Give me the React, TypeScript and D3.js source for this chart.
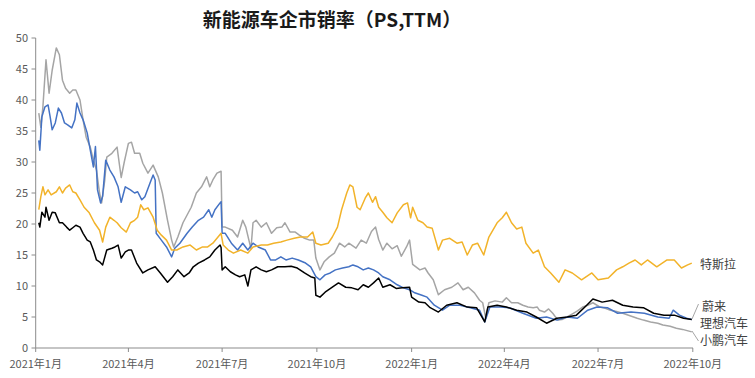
import React from "react";
import * as d3 from "d3";

const seriesNames = ["小鹏汽车", "理想汽车", "特斯拉", "蔚来"];
const seriesColors = ["#A5A5A5", "#4472C4", "#F2B32A", "#000000"];

const xpeng: [string, number][] = [
["2021-01-04",37.9],["2021-01-06",35.6],["2021-01-08",38.9],["2021-01-11",46.5],["2021-01-14",41.1],["2021-01-17",44.8],["2021-01-21",48.4],["2021-01-24",47.3],["2021-01-27",43.2],["2021-01-30",41.9],["2021-02-03",41.1],["2021-02-06",41.6],["2021-02-09",41.6],["2021-02-13",40],["2021-02-16",36.8],["2021-02-19",34],["2021-02-23",32.4],["2021-02-26",30.3],["2021-03-01",28.7],["2021-03-04",25],["2021-03-06",23.4],["2021-03-09",27],["2021-03-11",30.8],["2021-03-16",31.4],["2021-03-21",32.4],["2021-03-25",27.5],["2021-03-28",30],["2021-04-01",33],["2021-04-04",33.2],["2021-04-07",31.4],["2021-04-12",31.4],["2021-04-15",29.8],["2021-04-20",28.2],["2021-04-25",29.5],["2021-04-30",27.6],["2021-05-04",25],["2021-05-09",20.6],["2021-05-13",17.4],["2021-05-15",16.3],["2021-05-19",17.9],["2021-05-24",20.2],["2021-06-01",22.7],["2021-06-06",25],["2021-06-11",26],["2021-06-16",27.6],["2021-06-19",26],["2021-06-22",27.1],["2021-06-26",28.2],["2021-06-30",28.5],["2021-07-01",19.5],["2021-07-04",19.5],["2021-07-11",19],["2021-07-16",17.9],["2021-07-21",20.6],["2021-07-24",19.5],["2021-07-27",17.4],["2021-07-29",16],["2021-07-31",20.2],["2021-08-03",20.6],["2021-08-08",19.5],["2021-08-13",20.2],["2021-08-18",18.5],["2021-08-23",19.4],["2021-08-28",19.5],["2021-08-31",20.2],["2021-09-05",18.7],["2021-09-10",18.7],["2021-09-14",18.2],["2021-09-19",17.7],["2021-09-24",17.4],["2021-09-28",17.4],["2021-09-30",14.5],["2021-10-04",12.6],["2021-10-08",13.9],["2021-10-13",14.7],["2021-10-18",15.3],["2021-10-23",16.9],["2021-10-28",16.3],["2021-11-01",16.9],["2021-11-08",16.1],["2021-11-13",17.4],["2021-11-18",16.9],["2021-11-23",18.8],["2021-11-27",19.5],["2021-11-30",17.5],["2021-12-04",15.8],["2021-12-08",16.9],["2021-12-13",16],["2021-12-18",16.5],["2021-12-22",14.8],["2021-12-27",16.3],["2021-12-30",17.4],["2022-01-02",13.5],["2022-01-09",12.6],["2022-01-14",12.9],["2022-01-17",12.1],["2022-01-22",11],["2022-01-27",8.6],["2022-02-02",9.4],["2022-02-09",9.8],["2022-02-15",10.5],["2022-02-20",9.4],["2022-02-25",9.8],["2022-03-03",8.9],["2022-03-08",7.7],["2022-03-11",7.3],["2022-03-14",4.8],["2022-03-17",7.3],["2022-03-23",7.6],["2022-03-30",7.4],["2022-04-03",8.1],["2022-04-08",7.3],["2022-04-14",7.3],["2022-04-19",6.9],["2022-04-24",6.6],["2022-04-29",6.5],["2022-05-03",6.6],["2022-05-05",6.1],["2022-05-10",5.8],["2022-05-14",6.3],["2022-05-18",5.6],["2022-05-23",4.5],["2022-05-27",4.6],["2022-06-01",5],["2022-06-07",5.6],["2022-06-11",6],["2022-06-16",6.6],["2022-06-21",6.9],["2022-06-26",7.3],["2022-07-03",6.6],["2022-07-08",6.4],["2022-07-13",6.1],["2022-07-19",5.9],["2022-07-25",5.6],["2022-08-01",5.2],["2022-08-08",4.8],["2022-08-14",4.5],["2022-08-21",4.2],["2022-08-28",4.0],["2022-09-02",3.7],["2022-09-09",3.5],["2022-09-15",3.2],["2022-09-21",3.0],["2022-09-30",2.6]
];

const lixiang: [string, number][] = [
["2021-01-04",33.5],["2021-01-05",31.9],["2021-01-07",37.3],["2021-01-10",38.9],["2021-01-13",39.2],["2021-01-15",37.3],["2021-01-17",35.2],["2021-01-20",36.3],["2021-01-23",38.7],["2021-01-26",37.9],["2021-01-29",36.3],["2021-02-01",36],["2021-02-05",35.5],["2021-02-08",36.8],["2021-02-10",39.5],["2021-02-13",37.9],["2021-02-16",36.8],["2021-02-20",34.7],["2021-02-23",31.9],["2021-02-26",29.2],["2021-02-28",32.5],["2021-03-02",25.5],["2021-03-05",23.4],["2021-03-07",24.5],["2021-03-10",30.3],["2021-03-14",28.7],["2021-03-18",27.6],["2021-03-22",26],["2021-03-25",23.5],["2021-03-29",26],["2021-04-03",25.5],["2021-04-07",25],["2021-04-10",25.2],["2021-04-14",23.9],["2021-04-17",24.4],["2021-04-22",26.6],["2021-04-25",27.9],["2021-04-27",27.1],["2021-04-28",18.5],["2021-05-03",17.4],["2021-05-08",16.3],["2021-05-13",14.7],["2021-05-16",16.1],["2021-05-21",16.9],["2021-05-28",18.5],["2021-06-02",19.5],["2021-06-08",20.6],["2021-06-13",21.1],["2021-06-18",22.3],["2021-06-21",21.1],["2021-06-24",22.3],["2021-06-29",23.4],["2021-06-30",23.6],["2021-07-01",18.5],["2021-07-04",18.5],["2021-07-10",16.9],["2021-07-16",15.8],["2021-07-21",16.9],["2021-07-26",15.8],["2021-07-31",16.9],["2021-08-05",16.3],["2021-08-12",15.8],["2021-08-17",14.2],["2021-08-22",14.2],["2021-08-27",14.7],["2021-09-01",14.2],["2021-09-07",14.5],["2021-09-13",14.2],["2021-09-20",13.7],["2021-09-25",13.1],["2021-09-30",11.5],["2021-10-04",11],["2021-10-09",11.8],["2021-10-14",12.1],["2021-10-19",12.6],["2021-10-26",12.9],["2021-11-01",13.1],["2021-11-05",13.4],["2021-11-10",13.1],["2021-11-15",12.6],["2021-11-20",12.9],["2021-11-25",12.6],["2021-11-30",12.1],["2021-12-04",11.5],["2021-12-11",11],["2021-12-18",10.2],["2021-12-24",9.7],["2021-12-30",9.4],["2022-01-04",8.9],["2022-01-11",8.5],["2022-01-16",8.2],["2022-01-23",6.9],["2022-01-31",6.1],["2022-02-07",6.9],["2022-02-17",6.9],["2022-02-27",6.5],["2022-03-08",6.1],["2022-03-13",4.2],["2022-03-18",6.6],["2022-03-28",6.6],["2022-04-06",6.5],["2022-04-19",5.6],["2022-05-02",4.8],["2022-05-12",5],["2022-05-22",4.5],["2022-06-01",5],["2022-06-11",4.8],["2022-06-21",6.1],["2022-06-30",6.6],["2022-07-10",6.5],["2022-07-20",5.6],["2022-08-02",5.8],["2022-08-15",5.6],["2022-08-28",5],["2022-09-08",4.8],["2022-09-12",6.1],["2022-09-18",5.3],["2022-09-25",4.8],["2022-09-30",4.6]
];

const tesla: [string, number][] = [
["2021-01-04",22.3],["2021-01-06",24.4],["2021-01-08",26],["2021-01-10",24.7],["2021-01-13",25.5],["2021-01-16",24.7],["2021-01-21",25.2],["2021-01-24",26],["2021-01-27",25],["2021-01-30",25.8],["2021-02-03",26.3],["2021-02-06",25.2],["2021-02-09",25],["2021-02-13",23.9],["2021-02-17",22.7],["2021-02-22",21.8],["2021-02-27",20.2],["2021-03-04",19],["2021-03-07",17.1],["2021-03-10",19.5],["2021-03-14",21.1],["2021-03-18",20.6],["2021-03-21",20.2],["2021-03-25",19.4],["2021-03-30",18.7],["2021-04-03",20.2],["2021-04-07",20.6],["2021-04-10",21.1],["2021-04-13",23.1],["2021-04-16",22.3],["2021-04-20",22.6],["2021-04-25",21.1],["2021-04-29",19],["2021-05-03",18.2],["2021-05-08",17.4],["2021-05-13",15.8],["2021-05-18",15.8],["2021-05-24",16.3],["2021-05-31",16.6],["2021-06-06",15.8],["2021-06-12",16.3],["2021-06-17",16.3],["2021-06-22",16.9],["2021-06-27",17.9],["2021-06-30",18.5],["2021-07-02",16.6],["2021-07-07",15.8],["2021-07-12",15.3],["2021-07-19",15.8],["2021-07-26",15.3],["2021-07-31",16.3],["2021-08-08",16.6],["2021-08-14",16.6],["2021-08-20",16.9],["2021-08-27",17.1],["2021-09-02",17.4],["2021-09-09",17.7],["2021-09-15",17.9],["2021-09-22",17.9],["2021-09-27",18.7],["2021-09-30",16.9],["2021-10-05",16.6],["2021-10-12",16.9],["2021-10-16",17.9],["2021-10-21",19.5],["2021-10-25",22.3],["2021-10-30",25],["2021-11-02",26.3],["2021-11-05",26],["2021-11-09",22.7],["2021-11-12",22.3],["2021-11-17",24.2],["2021-11-20",25],["2021-11-24",23.5],["2021-11-27",24.4],["2021-11-30",22.7],["2021-12-04",21.9],["2021-12-08",21],["2021-12-13",20.2],["2021-12-18",21.8],["2021-12-24",23.1],["2021-12-28",23.4],["2021-12-31",21],["2022-01-02",22.7],["2022-01-07",20.6],["2022-01-12",20.2],["2022-01-16",19.5],["2022-01-21",19.3],["2022-01-27",15.8],["2022-01-31",17.4],["2022-02-07",17.7],["2022-02-14",16.9],["2022-02-19",17.1],["2022-02-24",15],["2022-03-01",16.6],["2022-03-06",16.9],["2022-03-12",15],["2022-03-17",17.9],["2022-03-25",20.2],["2022-03-30",21],["2022-04-03",21.9],["2022-04-08",20.2],["2022-04-13",19.2],["2022-04-18",19.5],["2022-04-22",16.9],["2022-04-29",15.3],["2022-05-04",15.8],["2022-05-10",13.1],["2022-05-16",12.1],["2022-05-24",10.6],["2022-05-30",12.6],["2022-06-06",12.1],["2022-06-15",11],["2022-06-25",12.1],["2022-07-01",11],["2022-07-11",11.3],["2022-07-19",12.6],["2022-07-25",13.1],["2022-07-31",13.7],["2022-08-06",14.2],["2022-08-12",13.4],["2022-08-18",14.2],["2022-08-27",13.1],["2022-09-06",14.2],["2022-09-13",14.2],["2022-09-20",12.9],["2022-09-26",13.4],["2022-09-30",13.7]
];

const nio: [string, number][] = [
["2021-01-04",20.2],["2021-01-05",19.5],["2021-01-07",21.9],["2021-01-10",21.1],["2021-01-11",22.7],["2021-01-14",20.6],["2021-01-17",21.9],["2021-01-20",21.8],["2021-01-24",20.2],["2021-01-27",20.2],["2021-01-31",19.5],["2021-02-03",19],["2021-02-06",19.4],["2021-02-09",19.8],["2021-02-13",19.5],["2021-02-16",18.5],["2021-02-20",17.4],["2021-02-23",17.1],["2021-02-26",15.8],["2021-03-01",14.2],["2021-03-04",13.9],["2021-03-07",13.4],["2021-03-11",15.8],["2021-03-16",16.1],["2021-03-19",16.3],["2021-03-22",16.6],["2021-03-25",14.5],["2021-03-29",15.5],["2021-04-01",15.8],["2021-04-04",15.8],["2021-04-09",13.7],["2021-04-15",12.1],["2021-04-20",12.6],["2021-04-27",13.1],["2021-05-02",12.1],["2021-05-09",10.6],["2021-05-14",11.5],["2021-05-19",12.6],["2021-05-25",11.5],["2021-05-30",12.1],["2021-06-03",13.1],["2021-06-08",13.7],["2021-06-14",14.2],["2021-06-19",14.7],["2021-06-24",15.8],["2021-06-29",16.6],["2021-06-30",16.2],["2021-07-01",12.6],["2021-07-04",13.1],["2021-07-09",12.3],["2021-07-14",11.8],["2021-07-18",11.5],["2021-07-23",11.8],["2021-07-26",10],["2021-07-29",12.6],["2021-08-03",13.1],["2021-08-08",12.6],["2021-08-13",12.3],["2021-08-18",12.6],["2021-08-24",13.1],["2021-08-31",13.1],["2021-09-06",13.2],["2021-09-12",12.9],["2021-09-19",12.1],["2021-09-25",11.5],["2021-09-29",11.3],["2021-09-30",8.5],["2021-10-04",8.2],["2021-10-09",9],["2021-10-16",9.8],["2021-10-22",10.5],["2021-10-29",9.8],["2021-11-04",9.7],["2021-11-10",9.4],["2021-11-15",10.2],["2021-11-20",9.8],["2021-11-25",10.5],["2021-11-30",11.3],["2021-12-04",9.8],["2021-12-11",10.2],["2021-12-17",9.6],["2021-12-23",9.7],["2021-12-30",9.8],["2022-01-01",8.2],["2022-01-08",7.4],["2022-01-14",7.3],["2022-01-19",6.5],["2022-01-27",5.8],["2022-02-04",6.9],["2022-02-14",7.3],["2022-02-24",6.6],["2022-03-05",6.5],["2022-03-13",4.2],["2022-03-16",6.6],["2022-03-25",6.9],["2022-04-03",6.6],["2022-04-13",6.1],["2022-04-23",5.8],["2022-05-02",5],["2022-05-12",4],["2022-05-22",4.8],["2022-06-01",5],["2022-06-10",5.3],["2022-06-20",6.9],["2022-06-26",7.9],["2022-07-05",7.4],["2022-07-15",7.7],["2022-07-25",6.9],["2022-08-04",6.6],["2022-08-14",6.5],["2022-08-24",5.6],["2022-09-03",5.3],["2022-09-13",5.3],["2022-09-22",4.8],["2022-09-30",4.6]
];

const seriesData = [xpeng, lixiang, tesla, nio];

const yTicks = [0, 5, 10, 15, 20, 25, 30, 35, 40, 45, 50];
const xTickDates = ["2021-01-01", "2021-04-01", "2021-07-01", "2021-10-01", "2022-01-01", "2022-04-01", "2022-07-01", "2022-10-01"];
const xTickLabels = ["2021年1月", "2021年4月", "2021年7月", "2021年10月", "2022年1月", "2022年4月", "2022年7月", "2022年10月"];
const title = "新能源车企市销率（PS,TTM）";

const parse = d3.timeParse("%Y-%m-%d");

export default function App() {
  const W = 755, H = 378;
  const x = d3.scaleTime()
    .domain([parse("2021-01-01") as Date, parse("2022-10-01") as Date])
    .range([35.7, 692.8]);
  const y = d3.scaleLinear().domain([0, 50]).range([348, 38]);
  const line = d3.line<[string, number]>()
    .x(d => x(parse(d[0]) as Date))
    .y(d => y(d[1]));
  const font = "'Noto Sans CJK SC', 'Noto Sans', sans-serif";
  const axisColor = "#8C8C8C";
  const labelColor = "#595959";

  const labels = [
    { name: seriesNames[2], x: 700, y: 269 },
    { name: seriesNames[3], x: 702, y: 311 },
    { name: seriesNames[1], x: 700, y: 328 },
    { name: seriesNames[0], x: 700, y: 345 },
  ];

  return (
    <svg width={W} height={H} style={{ position: "absolute", left: 0, top: 0, background: "#fff" }} fontFamily={font}>
      <rect x={0} y={0} width={W} height={H} fill="#fff" />
      <text x={332} y={27} textAnchor="middle" fontSize={19} fontWeight="bold" fill="#1a1a1a">{title}</text>

      {seriesData.map((s, i) => (
        <path key={i} d={line(s) || ""} fill="none" stroke={seriesColors[i]} strokeWidth={1.5} strokeLinejoin="round" />
      ))}

      <line x1={35.7} x2={35.7} y1={y(50)} y2={y(0)} stroke={axisColor} strokeWidth={1} />
      {yTicks.map(t => (
        <g key={t}>
          <line x1={31.5} x2={35.7} y1={y(t)} y2={y(t)} stroke={axisColor} strokeWidth={1} />
          <text x={28} y={y(t) + 4} textAnchor="end" fontSize={11} fill={labelColor}>{t}</text>
        </g>
      ))}

      <line x1={35.7} x2={693} y1={y(0)} y2={y(0)} stroke={axisColor} strokeWidth={1.2} />
      {xTickDates.map((d, i) => {
        const xp = x(parse(d) as Date);
        return (
          <g key={d}>
            <line x1={xp} x2={xp} y1={y(0)} y2={y(0) + 4} stroke={axisColor} strokeWidth={1} />
            <text x={xp} y={368} textAnchor="middle" fontSize={11} fill={labelColor}>{xTickLabels[i]}</text>
          </g>
        );
      })}

      <line x1={692} x2={698.5} y1={319} y2={304} stroke="#A6A6A6" strokeWidth={1} />
      <line x1={692} x2={698.5} y1={331} y2={341} stroke="#A6A6A6" strokeWidth={1} />
      {labels.map(l => (
        <text key={l.name} x={l.x} y={l.y} fontSize={12} fill="#404040">{l.name}</text>
      ))}
    </svg>
  );
}
